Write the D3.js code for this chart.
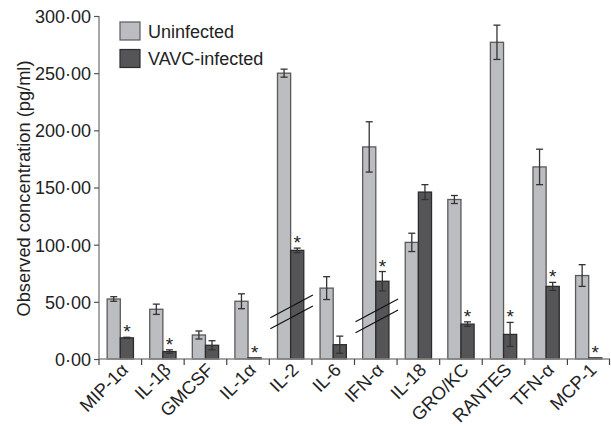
<!DOCTYPE html>
<html>
<head>
<meta charset="utf-8">
<script src="https://d3js.org/d3.v7.min.js"></script>
<style>
  body { margin: 0; background: #fff; }
  svg text { font-family: "Liberation Sans", Arial, sans-serif; fill: #222; }
</style>
</head>
<body>
<div id="chart"></div>
<script>
  // DATA
  const categories = ["MIP-1α", "IL-1β", "GMCSF", "IL-1α", "IL-2", "IL-6",
    "IFN-α", "IL-18", "GRO/KC", "RANTES", "TFN-α", "MCP-1"];
  const uninfected = [52.5, 43.5, 21, 50.5, 250, 62, 185.5, 102, 139.5, 277, 168, 73];
  const uninfectedErr = [2, 4.5, 3.5, 6.5, 3.5, 10, 22, 8, 3.5, 15, 15.5, 9.5];
  const infected = [18.5, 6.5, 12, 1, 95, 12.5, 68, 146, 30.5, 21.5, 63.5, 1];
  const infectedErr = [0.5, 1.5, 4, 0, 2, 7.5, 8.5, 6.5, 2, 10.5, 3.5, 0];
  const significant = [true, true, false, true, true, false, true, false, true, true, true, true];
  const brokenAxis = ["IL-2", "IFN-α"];
  const yTicks = [0, 50, 100, 150, 200, 250, 300];
  const seriesNames = ["Uninfected", "VAVC-infected"];

  const W = 611, H = 426;
  const mLeft = 99, mRight = 610, mTop = 16, mBottom = 359;

  const svg = d3.select("#chart").append("svg")
    .attr("width", W).attr("height", H);

  const x = d3.scaleBand().domain(categories).range([mLeft, mRight]).padding(0);
  const inner = d3.scaleBand().domain(["u", "i"]).range([0, x.bandwidth()])
    .paddingInner(0).paddingOuter(0.62);
  const y = d3.scaleLinear().domain([0, 300]).range([mBottom, mTop]);

  const fmt = v => d3.format(".2f")(v).replace(".", "·");

  const colors = { u: "#bcbdc0", i: "#555558" };
  const strokes = { u: "#5a5a5c", i: "#2c2c2e" };

  // BARS
  const rows = categories.map((c, k) => ({
    cat: c, u: uninfected[k], ue: uninfectedErr[k],
    i: infected[k], ie: infectedErr[k], sig: significant[k]
  }));

  const groups = svg.append("g").selectAll("g").data(rows).join("g")
    .attr("transform", d => `translate(${x(d.cat)},0)`);

  ["u", "i"].forEach(s => {
    groups.append("rect")
      .attr("x", inner(s))
      .attr("y", d => y(d[s]))
      .attr("width", inner.bandwidth())
      .attr("height", d => y(0) - y(d[s]))
      .attr("fill", colors[s])
      .attr("stroke", strokes[s])
      .attr("stroke-width", 1.3);

    const eb = groups.filter(d => d[s + "e"] > 0).append("g")
      .attr("stroke", "#333").attr("stroke-width", 1.3);
    const cx = inner(s) + inner.bandwidth() / 2;
    eb.append("line")
      .attr("x1", cx).attr("x2", cx)
      .attr("y1", d => y(d[s] + d[s + "e"]))
      .attr("y2", d => y(d[s] - d[s + "e"]));
    eb.append("line")
      .attr("x1", cx - 3.5).attr("x2", cx + 3.5)
      .attr("y1", d => y(d[s] + d[s + "e"]))
      .attr("y2", d => y(d[s] + d[s + "e"]));
    eb.append("line")
      .attr("x1", cx - 3.5).attr("x2", cx + 3.5)
      .attr("y1", d => y(d[s] - d[s + "e"]))
      .attr("y2", d => y(d[s] - d[s + "e"]));
  });

  // significance stars
  groups.filter(d => d.sig).append("text")
    .attr("x", inner("i") + inner.bandwidth() / 2)
    .attr("y", d => y(d.i + d.ie) + 1)
    .attr("text-anchor", "middle")
    .style("font-size", "19px")
    .text("*");

  // axis break marks
  const breaks = svg.append("g").attr("stroke", "#111").attr("stroke-width", 1.2);
  brokenAxis.forEach(c => {
    const x0 = x(c), x1 = x(c) + x.bandwidth();
    const shift = c === "IFN-α" ? 4 : 0;
    [0, 11].forEach(off => {
      breaks.append("line")
        .attr("x1", x0 + 1).attr("y1", y(36) + off + shift)
        .attr("x2", x1 + 1).attr("y2", y(56) + off + shift);
    });
  });

  // AXES
  const yAxis = svg.append("g")
    .attr("transform", `translate(${mLeft},0)`)
    .call(d3.axisLeft(y).tickValues(yTicks).tickFormat(fmt).tickSize(5).tickPadding(3));
  yAxis.select(".domain").attr("stroke", "#777").attr("stroke-width", 1.3)
    .attr("d", `M0,${mTop}V${mBottom}`);
  yAxis.selectAll(".tick line").attr("stroke", "#555").attr("stroke-width", 1.2);
  yAxis.selectAll(".tick text").style("font-size", "18px").attr("fill", "#222")
    .attr("dy", "0.36em");

  const xAxis = svg.append("g")
    .attr("transform", `translate(0,${mBottom})`);
  xAxis.append("line").attr("x1", mLeft).attr("x2", mRight)
    .attr("stroke", "#888").attr("stroke-width", 1.3);
  xAxis.selectAll(".sep").data(categories).join("line")
    .attr("class", "sep")
    .attr("x1", d => x(d)).attr("x2", d => x(d))
    .attr("y1", 0).attr("y2", 6)
    .attr("stroke", "#444").attr("stroke-width", 1.2);
  xAxis.append("line").attr("x1", mRight - 0.5).attr("x2", mRight - 0.5)
    .attr("y1", 0).attr("y2", 6).attr("stroke", "#444").attr("stroke-width", 1.2);
  xAxis.selectAll(".lbl").data(categories).join("text")
    .attr("class", "lbl")
    .attr("transform", d => `translate(${x(d) + x.bandwidth() / 2 + 9},${12}) rotate(-45)`)
    .attr("text-anchor", "end")
    .style("font-size", "18.3px")
    .text(d => d);

  svg.append("text")
    .attr("transform", `translate(30,188.5) rotate(-90)`)
    .attr("text-anchor", "middle")
    .style("font-size", "18.3px")
    .text("Observed concentration (pg/ml)");

  // LEGEND
  const legend = svg.append("g").selectAll("g").data(seriesNames).join("g")
    .attr("transform", (d, k) => `translate(120,${22 + k * 27.5})`);
  legend.append("rect")
    .attr("width", 20).attr("height", 18)
    .attr("fill", (d, k) => k === 0 ? colors.u : colors.i)
    .attr("stroke", (d, k) => k === 0 ? strokes.u : strokes.i)
    .attr("stroke-width", 1.2);
  legend.append("text")
    .attr("x", 28).attr("y", 15.5)
    .style("font-size", "18px")
    .text(d => d);
</script>
</body>
</html>
